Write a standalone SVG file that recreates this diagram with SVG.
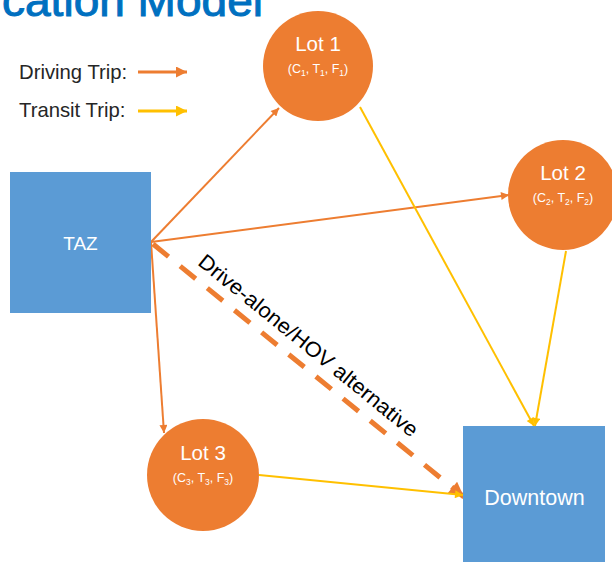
<svg xmlns="http://www.w3.org/2000/svg" width="612" height="562" viewBox="0 0 612 562">
  <style>
    .lbl { font-family: "Liberation Sans", Arial, sans-serif; fill: #ffffff; }
    .lot { font-size: 20.5px; }
    .sub { font-size: 12.5px; }
    .s { font-size: 8.5px; }
    .legend { font-family: "Liberation Sans", Arial, sans-serif; font-size: 20.3px; fill: #262626; }
    .drive { stroke: #ED7D31; stroke-width: 2; fill: none; }
    .transit { stroke: #FFC000; stroke-width: 2; fill: none; }
    .lotc { fill: #ED7D31; }
    .box { fill: #5B9BD5; }
  </style>
  <defs>
    <marker id="ahO" markerUnits="userSpaceOnUse" viewBox="0 0 10 10" refX="10" refY="5" markerWidth="9" markerHeight="8" orient="auto">
      <path d="M0,0 L10,5 L0,10 z" fill="#ED7D31"/>
    </marker>
    <marker id="ahY" markerUnits="userSpaceOnUse" viewBox="0 0 10 10" refX="10" refY="5" markerWidth="9" markerHeight="8" orient="auto">
      <path d="M0,0 L10,5 L0,10 z" fill="#FFC000"/>
    </marker>
    <marker id="ahOL" markerUnits="userSpaceOnUse" viewBox="0 0 10 10" refX="10" refY="5" markerWidth="12" markerHeight="11" orient="auto">
      <path d="M0,0 L10,5 L0,10 z" fill="#ED7D31"/>
    </marker>
    <marker id="ahYL" markerUnits="userSpaceOnUse" viewBox="0 0 10 10" refX="10" refY="5" markerWidth="12" markerHeight="11" orient="auto">
      <path d="M0,0 L10,5 L0,10 z" fill="#FFC000"/>
    </marker>
    <marker id="ahD" markerUnits="userSpaceOnUse" viewBox="0 0 10 10" refX="10" refY="5" markerWidth="17" markerHeight="15" orient="auto">
      <path d="M0,0 L10,5 L0,10 z" fill="#ED7D31"/>
    </marker>
  </defs>

  <rect width="612" height="562" fill="#ffffff"/>

  <g id="title">
    <text x="2" y="16" font-family="Liberation Sans, Arial, sans-serif" font-size="44" fill="#0070C0" stroke="#0070C0" stroke-width="1" textLength="261" lengthAdjust="spacingAndGlyphs">cation Model</text>
  </g>

  <g id="legend">
    <text class="legend" x="19" y="79">Driving Trip:</text>
    <line x1="138" y1="72" x2="187" y2="72" stroke="#ED7D31" stroke-width="3" marker-end="url(#ahOL)"/>
    <text class="legend" x="19" y="117">Transit Trip:</text>
    <line x1="138" y1="111" x2="187" y2="111" stroke="#FFC000" stroke-width="3" marker-end="url(#ahYL)"/>
  </g>

  <g id="connectors">
    <line class="drive" x1="151" y1="242" x2="279" y2="108" marker-end="url(#ahO)"/>
    <line class="drive" x1="151" y1="242" x2="509" y2="195" marker-end="url(#ahO)"/>
    <line class="drive" x1="151" y1="242" x2="164" y2="433" marker-end="url(#ahO)"/>
    <line x1="153" y1="244" x2="464" y2="497" stroke="#ED7D31" stroke-width="5" stroke-dasharray="20 15" marker-end="url(#ahD)"/>
    <line class="transit" x1="360" y1="107" x2="534" y2="426" marker-end="url(#ahY)"/>
    <line class="transit" x1="566" y1="251" x2="535" y2="426" marker-end="url(#ahY)"/>
    <line class="transit" x1="259" y1="475" x2="463" y2="495" marker-end="url(#ahY)"/>
    <text transform="translate(304,351) rotate(39.06)" text-anchor="middle" font-family="Liberation Sans, Arial, sans-serif" font-size="21" fill="#000000" textLength="276" lengthAdjust="spacingAndGlyphs">Drive-alone/HOV alternative</text>
  </g>

  <g id="taz">
    <rect class="box" x="10" y="172" width="141" height="141"/>
    <text class="lbl" x="80.5" y="250" font-size="19" text-anchor="middle">TAZ</text>
  </g>

  <g id="downtown">
    <rect class="box" x="463" y="426" width="142" height="142"/>
    <text class="lbl" x="534.5" y="505" font-size="21.5" text-anchor="middle">Downtown</text>
  </g>

  <g id="lot1">
    <circle class="lotc" cx="318" cy="66" r="55"/>
    <text class="lbl lot" x="318" y="51" text-anchor="middle">Lot 1</text>
    <text class="lbl sub" x="318" y="73" text-anchor="middle">(C<tspan class="s" dy="3">1</tspan><tspan dy="-3">, T</tspan><tspan class="s" dy="3">1</tspan><tspan dy="-3">, F</tspan><tspan class="s" dy="3">1</tspan><tspan dy="-3">)</tspan></text>
  </g>

  <g id="lot2">
    <circle class="lotc" cx="563" cy="195" r="55"/>
    <text class="lbl lot" x="563" y="180" text-anchor="middle">Lot 2</text>
    <text class="lbl sub" x="563" y="202" text-anchor="middle">(C<tspan class="s" dy="3">2</tspan><tspan dy="-3">, T</tspan><tspan class="s" dy="3">2</tspan><tspan dy="-3">, F</tspan><tspan class="s" dy="3">2</tspan><tspan dy="-3">)</tspan></text>
  </g>

  <g id="lot3">
    <circle class="lotc" cx="203" cy="475" r="56"/>
    <text class="lbl lot" x="203" y="460" text-anchor="middle">Lot 3</text>
    <text class="lbl sub" x="203" y="482" text-anchor="middle">(C<tspan class="s" dy="3">3</tspan><tspan dy="-3">, T</tspan><tspan class="s" dy="3">3</tspan><tspan dy="-3">, F</tspan><tspan class="s" dy="3">3</tspan><tspan dy="-3">)</tspan></text>
  </g>
</svg>
